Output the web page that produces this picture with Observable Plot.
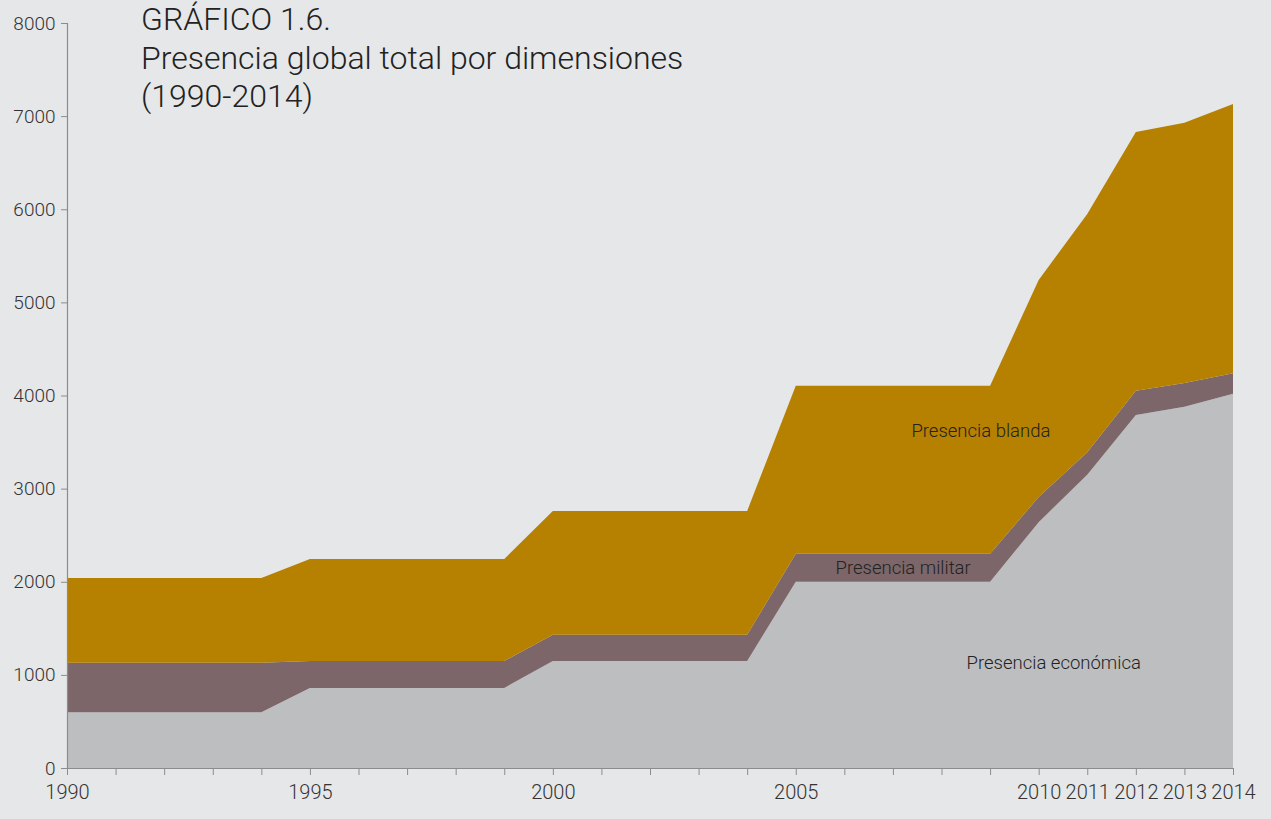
<!DOCTYPE html>
<html>
<head>
<meta charset="utf-8">
<script src="https://cdn.jsdelivr.net/npm/d3@7"></script>
<script src="https://cdn.jsdelivr.net/npm/@observablehq/plot@0.6"></script>
<style>
  html, body { margin: 0; padding: 0; background: #e6e7e9; }
  #wrap { position: relative; width: 1271px; height: 819px; }
  #title { position: absolute; left: 141px; top: 0px; font-family: Roboto, sans-serif; font-weight: 300; font-size: 32px; line-height: 38.5px; color: #222; }
</style>
</head>
<body>
<div id="wrap">
  <div id="chart"></div>
  <div id="title">GRÁFICO 1.6.<br>Presencia global total por dimensiones<br>(1990-2014)</div>
</div>
<script>
const years = [1990, 1994, 1995, 1999, 2000, 2004, 2005, 2009, 2010, 2011, 2012, 2013, 2014];
const economica = [600, 600, 860, 860, 1150, 1150, 2000, 2000, 2640, 3150, 3790, 3880, 4020];
const militar   = [530, 530, 290, 290, 280, 280, 300, 300, 270, 240, 260, 255, 220];
const blanda    = [910, 910, 1095, 1095, 1330, 1330, 1805, 1805, 2330, 2560, 2780, 2795, 2890];
const seriesNames = ["Presencia económica", "Presencia militar", "Presencia blanda"];
const seriesColors = ["#bdbec0", "#7c6669", "#b68000"];
const tickYears = d3.range(1990, 2015);
const labeledYears = [1990, 1995, 2000, 2005, 2010, 2011, 2012, 2013, 2014];
const yTicks = [0, 1000, 2000, 3000, 4000, 5000, 6000, 7000, 8000];
const labelText = ["Presencia blanda", "Presencia militar", "Presencia económica"];
const labelX = [2008.8, 2007.2, 2010.3];
const labelY = [3620, 2150, 1130];

const values = [economica, militar, blanda];
const tidy = [];
seriesNames.forEach((s, i) => years.forEach((yr, j) => tidy.push({series: s, year: yr, value: values[i][j]})));
const labels = labelText.map((t, i) => ({text: t, x: labelX[i], y: labelY[i]}));

const chart = Plot.plot({
  width: 1271,
  height: 819,
  marginLeft: 67,
  marginRight: 38,
  marginTop: 23,
  marginBottom: 51,
  style: { background: "#e6e7e9", fontFamily: "Roboto, sans-serif", fontSize: "20px", fontWeight: 300, color: "#333" },
  x: { domain: [1990, 2014] },
  y: { domain: [0, 8000] },
  color: { domain: seriesNames, range: seriesColors },
  marks: [
    Plot.areaY(tidy, { x: "year", y: "value", fill: "series", z: "series", order: seriesNames }),
    Plot.ruleX([1990], { stroke: "#8c8c8c", strokeWidth: 1.2 }),
    Plot.ruleY([0], { stroke: "#8c8c8c", strokeWidth: 1.2 }),
    Plot.axisY({ ticks: yTicks, tickSize: 6, tickPadding: 6, fontSize: 19, tickFormat: d => String(d), label: null, stroke: "#8c8c8c", fill: "#333" }),
    Plot.axisX({ ticks: tickYears, tickSize: 7, tickPadding: 9, fontSize: 20, tickFormat: d => labeledYears.includes(d) ? String(d) : "", label: null, stroke: "#8c8c8c", fill: "#333" }),
    Plot.text(labels, { x: "x", y: "y", text: "text", fill: "#222", fontSize: 18.5, fontWeight: 300 })
  ]
});
document.getElementById("chart").appendChild(chart);
</script>
</body>
</html>
